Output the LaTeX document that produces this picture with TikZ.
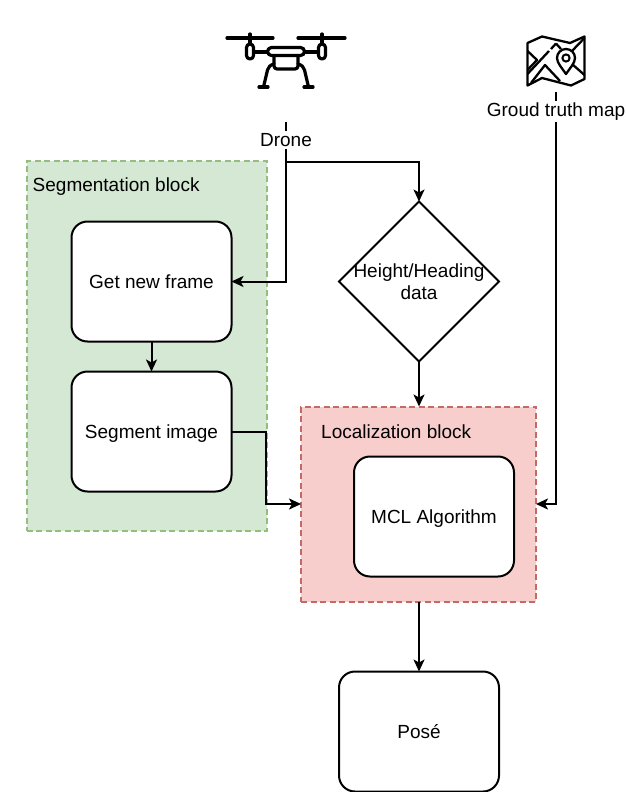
\documentclass[tikz,border=0pt]{standalone}
\usepackage{fontspec}
\setmainfont{Liberation Sans}
\usetikzlibrary{arrows.meta,shapes.geometric}
\definecolor{grfill}{HTML}{D5E8D4}
\definecolor{grline}{HTML}{93BE7F}
\definecolor{rdfill}{HTML}{F8CECC}
\definecolor{rdline}{HTML}{C46A66}
\tikzset{
  flowbox/.style={draw=black,fill=white,line width=2pt,rounded corners=16pt,minimum width=160pt,minimum height=120pt,inner sep=0pt,outer sep=0pt,align=center},
  blockgreen/.style={draw=grline,fill=grfill,line width=2pt,dash pattern=on 6pt off 3.5pt,inner sep=0pt,outer sep=0pt},
  blockred/.style={draw=rdline,fill=rdfill,line width=2pt,dash pattern=on 6pt off 3.5pt,inner sep=0pt,outer sep=0pt},
  decision/.style={diamond,draw=black,fill=white,line width=2pt,minimum width=160pt,minimum height=160pt,inner sep=0pt,outer sep=0pt,align=center,aspect=1},
  link/.style={draw=black,line width=2pt,-{Stealth[length=12pt,width=11pt,inset=3pt]}},
  lbl/.style={inner sep=1pt,font=\fontsize{19}{22}\selectfont},
  wlbl/.style={lbl,fill=white,inner xsep=3pt,inner ysep=2pt},
  icon/.style={draw=black,line width=3.2pt,line cap=round,line join=round},
  iconthin/.style={draw=black,line width=2.3pt,line join=round}
}
\begin{document}
\begin{tikzpicture}[x=1pt,y=-1pt]
\useasboundingbox (0,0) rectangle (626,792);
% blocks
\node[blockgreen,minimum width=240pt,minimum height=370pt] (seg) at (146.5,346) {};
\node[blockred,minimum width=235pt,minimum height=195pt] (loc) at (418.5,504) {};
\node[lbl,anchor=west] (segl) at (31.5,187) {Segmentation block};
\node[lbl,anchor=west] (locl) at (320,432) {Localization block};
% boxes
\node[flowbox] (frame) at (151.5,281.5) {};
\node[lbl] at (frame) {Get new frame};
\node[flowbox] (segm) at (151.5,431.5) {};
\node[lbl] at (151.5,434) {Segment image};
\node[flowbox] (mcl) at (434,516.5) {};
\node[lbl] at (434,519) {MCL Algorithm};
\node[flowbox] (pose) at (419,731.5) {};
\node[lbl] at (pose) {Posé};
\node[decision] (dec) at (419,281.5) {};
\node[lbl,align=center,font=\fontsize{19}{22}\selectfont] at (419,281.5) {Height/Heading\\data};
% free ends at the icons
\coordinate (droneend) at (286,122);
\coordinate (mapend) at (556,92);
\coordinate (j1) at (286,161.5);
% connectors
\draw[link] (droneend) |- (j1) -| (dec.north);
\draw[link] (j1) |- (frame.east);
\draw[link] (frame.south) -- (segm.north);
\draw[link] (segm.east) -- (266,431.5) |- (loc.west);
\draw[link] (dec.south) -- (dec.south |- loc.north);
\draw[link] (mapend) |- (loc.east);
\draw[link] (pose.north |- loc.south) -- (pose.north);
% labels over lines
\node[wlbl] (dronel) at (286,140) {Drone};
\node[wlbl] (mapl) at (556,111.5) {Groud truth map};
% drone icon
\draw[icon] (227,38) -- (273,38) (298,38) -- (345,38);
\draw[icon] (250,34) -- (250,44) (322,34) -- (322,44);
\draw[icon,rounded corners=3.5pt] (246.5,44) rectangle (253.5,59);
\draw[icon,rounded corners=3.5pt] (318.5,44) rectangle (325.5,59);
\draw[icon] (254,52) -- (267,52) (305,52) -- (318,52);
\draw[icon,rounded corners=4pt] (267.5,47.5) rectangle (304.5,55.5);
\draw[icon,rounded corners=3pt] (274,56) -- (274,69) -- (298,69) -- (298,56);
\draw[icon] (274,64) .. controls (270,65) and (268.5,67) .. (267.5,70) -- (263.5,87);
\draw[icon] (298,64) .. controls (302,65) and (303.5,67) .. (304.5,70) -- (308.5,87);
\draw[icon] (259,87) -- (268,87) (304,87) -- (313,87);
% map icon
\draw[iconthin] (527.5,43) -- (542,36.5) -- (570,43) -- (584.5,36.5) -- (584.5,79) -- (571,85.5) -- (542,78) -- (527.5,85.5) -- cycle;
\draw[iconthin] (527.5,51) -- (537,60) -- (527.5,70);
\draw[iconthin] (527.5,74) -- (549,51);
\draw[iconthin] (551,49) -- (556,43.5);
\draw[iconthin] (531,83) -- (545,65) -- (560,81);
\draw[iconthin] (556,43.5) -- (561,49);
\draw[iconthin] (584.5,38) -- (572,51);
\draw[iconthin] (572,64) -- (584.5,75);
\draw[draw=black,fill=white,line width=2.3pt,line join=round] (566,74) .. controls (562,68) and (557,63) .. (557,58) .. controls (557,53) and (561,49) .. (566,49) .. controls (571,49) and (575,53) .. (575,58) .. controls (575,63) and (570,68) .. (566,74) -- cycle;
\draw[draw=black,line width=2pt] (566,58) circle[radius=3.6];
\end{tikzpicture}
\end{document}
